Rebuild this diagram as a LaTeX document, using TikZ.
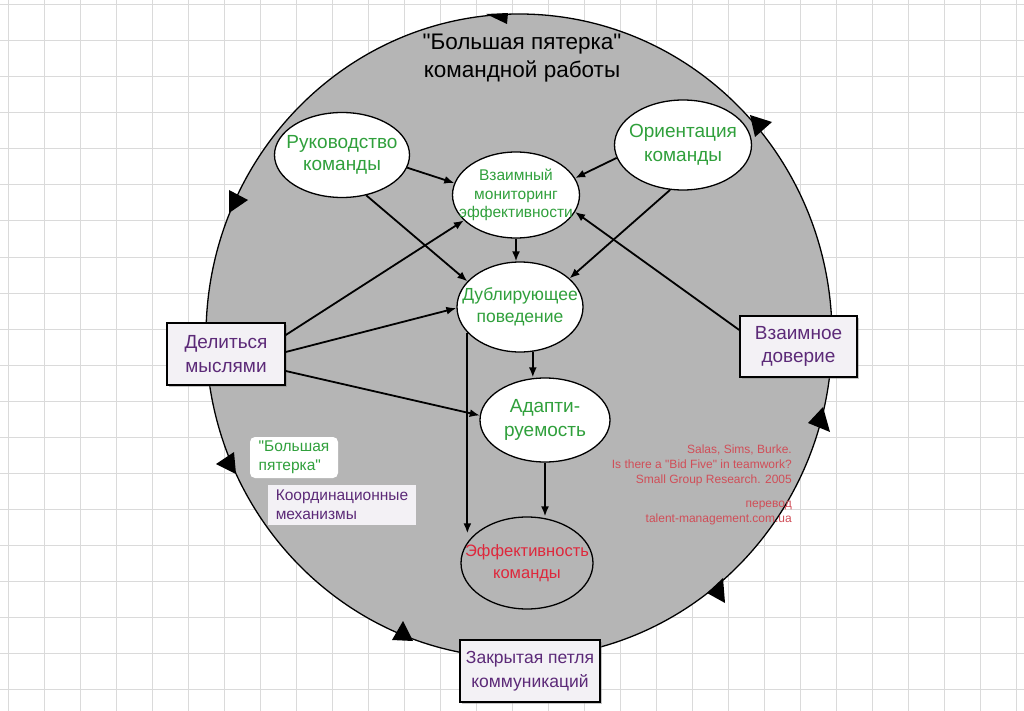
\documentclass[tikz,border=0pt]{standalone}
\usepackage{fontspec}
\setmainfont{Liberation Sans}[Ligatures=TeXOff]
\usetikzlibrary{arrows.meta,shapes.geometric,shadows}
\definecolor{cgray}{RGB}{181,181,181}
\definecolor{gridc}{RGB}{218,218,218}
\definecolor{tgreen}{RGB}{48,160,60}
\definecolor{tpurple}{RGB}{92,42,120}
\definecolor{tred}{RGB}{222,40,60}
\definecolor{rref}{RGB}{208,78,88}
\definecolor{boxfill}{RGB}{243,241,245}
\tikzset{
  ell/.style={ellipse, draw, fill=white, line width=1.3pt, inner sep=0pt},
  etext/.style={align=center, text=tgreen, inner sep=0pt},
  pbox/.style={rectangle, draw, fill=boxfill, line width=1.5pt, inner sep=0pt, align=center, text=tpurple, font=\fontsize{19}{23.5}\selectfont,
    drop shadow={shadow xshift=1.5pt, shadow yshift=-1.5pt, opacity=0.45}},
  arr/.style={-{Latex[length=10pt,width=8pt]}, line width=1.8pt},
  loopmark/.style={fill=black},
}
\begin{document}
\begin{tikzpicture}[x=1pt,y=-1pt]
\useasboundingbox (0,0) rectangle (1024,711);
\fill[white] (0,0) rectangle (1024,711);
\foreach \i in {0,...,28} \draw[gridc, line width=1pt] ({8+36*\i},0) -- ({8+36*\i},711);
\foreach \j in {0,...,19} \draw[gridc, line width=1pt] (0,{5+36*\j}) -- (1024,{5+36*\j});

% big loop
\node[ellipse, draw, fill=cgray, line width=1.3pt, minimum width=626pt, minimum height=644pt, inner sep=0pt] (big) at (519,336) {};
% loop arrow marks
\fill[loopmark] (486,14) -- (508,13) -- (507,24) -- cycle;
\fill[loopmark] (750,115) -- (772,122) -- (755,137) -- cycle;
\fill[loopmark] (229,190) -- (248,200) -- (229,213) -- cycle;
\fill[loopmark] (823,407) -- (808,423) -- (830,432) -- cycle;
\fill[loopmark] (723,578) -- (707,593) -- (725,603) -- cycle;
\fill[loopmark] (216,464) -- (234,452) -- (236,474) -- cycle;
\fill[loopmark] (392,640) -- (403,621) -- (413,641) -- cycle;

% title
\node[align=center, font=\fontsize{22.5}{27.5}\selectfont] (title) at (522,58) {"Большая пятерка"\\командной работы};

% ellipses
\node[ell, minimum width=135pt, minimum height=85pt] (lead) at (342,155) {};
\node[etext, font=\fontsize{19}{22.5}\selectfont] (lead-t) at (lead) {Руководство\\команды};
\node[ell, minimum width=127pt, minimum height=86pt] (mon) at (516,195) {};
\node[etext, font=\fontsize{15.5}{18.5}\selectfont] (mon-t) at (mon) {Взаимный\\мониторинг\\эффективности};
\node[ell, minimum width=137pt, minimum height=90pt] (orient) at (683,145) {};
\node[etext, font=\fontsize{19}{24}\selectfont] (orient-t) at (orient) {Ориентация\\команды};
\node[ell, minimum width=126pt, minimum height=90pt] (dub) at (520,307) {};
\node[etext, font=\fontsize{17.5}{21.5}\selectfont] (dub-t) at (dub) {Дублирующее\\поведение};
\node[ell, minimum width=130pt, minimum height=84pt] (adapt) at (545,420) {};
\node[etext, font=\fontsize{19}{23.5}\selectfont] (adapt-t) at (adapt) {Адапти-\\руемость};
\node[ell, fill=cgray, minimum width=132pt, minimum height=92pt] (eff) at (527,563) {};
\node[etext, text=tred, font=\fontsize{16.5}{21.5}\selectfont] (eff-t) at (eff) {Эффективность\\команды};

% boxes
\node[pbox, minimum width=118pt, minimum height=62pt] (share) at (226,354) {Делиться\\мыслями};
\node[pbox, minimum width=117pt, minimum height=61pt] (trust) at (798.5,346.5) {Взаимное\\доверие};
\node[pbox, minimum width=140pt, minimum height=62pt, font=\fontsize{17.5}{24}\selectfont] (cloop) at (530,671) {Закрытая петля\\коммуникаций};

% legend
\node[rectangle, rounded corners=5pt, fill=white, minimum width=88pt, minimum height=41pt, inner sep=0pt, text=tgreen, align=left, font=\fontsize{15.5}{19}\selectfont] (leg1) at (294,457.5) {"Большая\\пятерка"};
\node[rectangle, fill=boxfill, minimum width=148pt, minimum height=40pt, inner sep=0pt, text=tpurple, align=left, font=\fontsize{15.5}{19}\selectfont] (leg2) at (342,505) {Координационные\\механизмы};

% reference text
\node[align=right, text=rref, font=\fontsize{12}{15}\selectfont, anchor=north east, inner sep=0pt] (ref) at (792,445) {Salas, Sims, Burke.\\Is there a "Bid Five" in teamwork?\\Small Group Research. 2005\\[9pt]перевод\\talent-management.com.ua};

% arrows
\draw[arr] (lead.-11) -- (mon.169);
\draw[arr] (lead.-59) -- (dub.154);
\draw[arr] (orient.191) -- (mon.16);
\draw[arr] (orient.254) -- (dub.30);
\draw[arr] (mon.south) -- (mon.south |- dub.north);
\draw[arr] (dub.-74) -- (dub.-74 |- adapt.north);
\draw[arr] (adapt.south) -- (adapt.south |- eff.north);
\draw[arr] (dub.206) -- (dub.206 |- eff.150);
\draw[arr] ([yshift=19pt]share.east) -- (mon.206);
\draw[arr] ([yshift=2pt]share.east) -- (dub.181);
\draw[arr] ([yshift=-17pt]share.east) -- (adapt.176);
\draw[arr] ([yshift=16.5pt]trust.west) -- (mon.-16);
\end{tikzpicture}
\end{document}
